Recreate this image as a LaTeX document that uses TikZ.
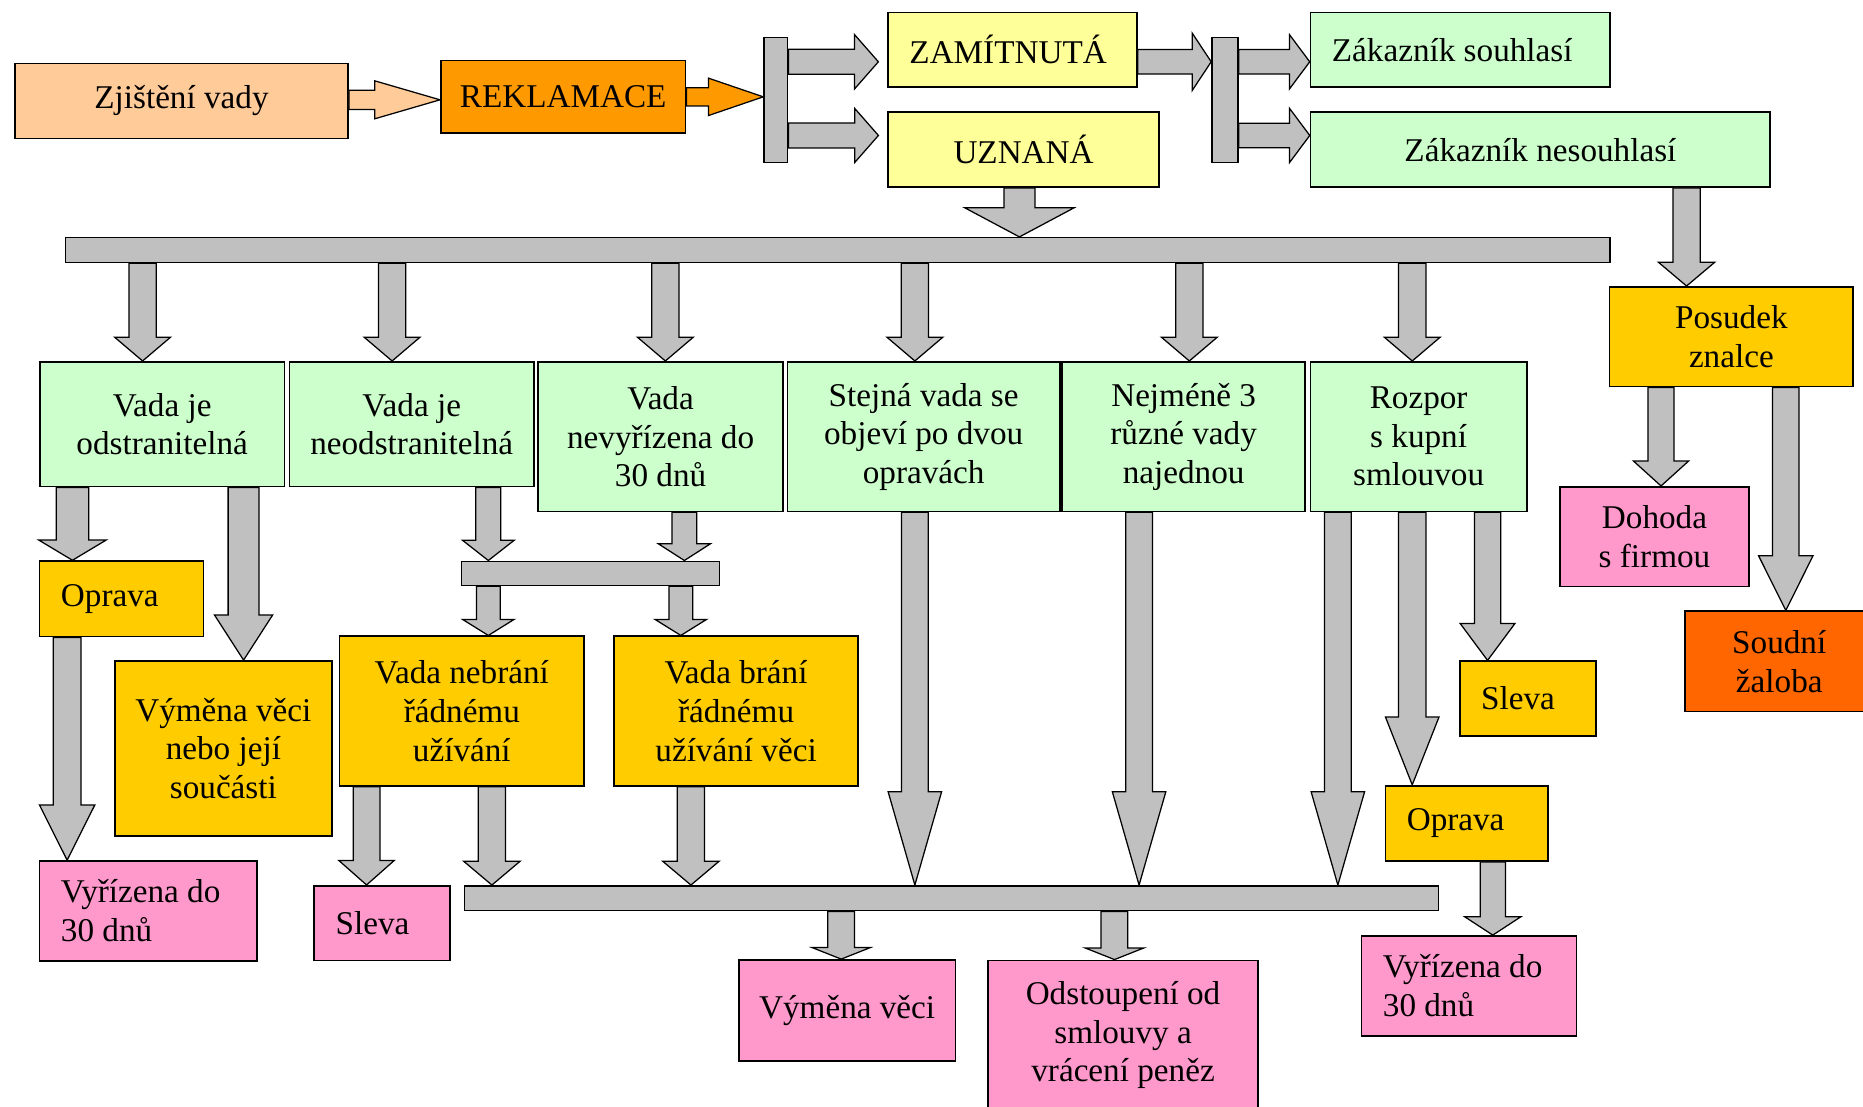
\documentclass[tikz,border=0pt]{standalone}
\usepackage{fontspec}
\setmainfont{Liberation Serif}
\usetikzlibrary{calc}

\definecolor{peach}{HTML}{FFCC99}
\definecolor{orng}{HTML}{FF9900}
\definecolor{yel}{HTML}{FFFF99}
\definecolor{grn}{HTML}{CCFFCC}
\definecolor{gold}{HTML}{FFCC00}
\definecolor{pnk}{HTML}{FF99CC}
\definecolor{dorng}{HTML}{FF6600}
\definecolor{gry}{HTML}{C0C0C0}

% one pixel of the drawing grid
\newcommand{\pu}{0.02cm}

\begin{document}
\begin{tikzpicture}[x=0.02cm, y=-0.02cm,
  font=\fontsize{15.9}{18.5}\selectfont,
  box/.style={draw, line width=0.8pt, inner sep=0pt, align=center},
  lbox/.style={box, align=flush left, inner xsep=0.36cm},
  bar/.style={draw, fill=gry, line width=0.7pt, inner sep=0pt},
  dn/.style n args={3}{draw, fill=gry, line width=0.6pt, to path={
    let \p1=(\tikztostart), \p2=(\tikztotarget) in
    (\x1-#1*\pu,\y1) -- (\x1-#1*\pu,\y2+#3*\pu) -- (\x1-#2*\pu,\y2+#3*\pu) -- (\x1,\y2)
    -- (\x1+#2*\pu,\y2+#3*\pu) -- (\x1+#1*\pu,\y2+#3*\pu) -- (\x1+#1*\pu,\y1) -- cycle}},
  rt/.style n args={3}{draw, fill=gry, line width=0.6pt, to path={
    let \p1=(\tikztostart), \p2=(\tikztotarget) in
    (\x1,\y1+#1*\pu) -- (\x2-#3*\pu,\y1+#1*\pu) -- (\x2-#3*\pu,\y1+#2*\pu) -- (\x2,\y1)
    -- (\x2-#3*\pu,\y1-#2*\pu) -- (\x2-#3*\pu,\y1-#1*\pu) -- (\x1,\y1-#1*\pu) -- cycle}}]

  \path[use as bounding box, clip] (0,0) rectangle (1568,931);

  % top row
  \node[box, fill=peach, minimum width=5.61cm, minimum height=1.26cm] (zjist) at (152.75,85) {Zjištění vady};
  \node[box, fill=orng, minimum width=4.12cm, minimum height=1.22cm] (rekl) at (474,81.5) {REKLAMACE};
  \node[bar, minimum width=0.40cm, minimum height=2.10cm] (bar1) at (653,84.2) {};
  \node[lbox, fill=yel, text width=3.47cm, minimum width=4.19cm, minimum height=1.26cm] (zam) at (852.2,42) {ZAMÍTNUTÁ};
  \node[box, fill=yel, minimum width=4.56cm, minimum height=1.26cm] (uzn) at (861.5,126) {UZNANÁ};
  \node[bar, minimum width=0.44cm, minimum height=2.10cm] (bar2) at (1031,84.2) {};
  \node[lbox, fill=grn, text width=4.32cm, minimum width=5.04cm, minimum height=1.26cm] (souhl) at (1229,42) {Zákazník souhlasí};
  \node[box, fill=grn, minimum width=7.74cm, minimum height=1.26cm] (nesouhl) at (1296.5,126) {Zákazník nesouhlasí};

  \node[bar, minimum width=26.0cm, minimum height=0.42cm] (mainbar) at (705,210.5) {};

  % second row
  \node[box, fill=grn, minimum width=4.12cm, minimum height=2.10cm] (odstr) at (136.5,357) {Vada je\\odstranitelná};
  \node[box, fill=grn, minimum width=4.12cm, minimum height=2.10cm] (neodstr) at (346.5,357) {Vada je\\neodstranitelná};
  \node[box, fill=grn, minimum width=4.12cm, minimum height=2.52cm] (nevyr) at (556,367.5) {Vada\\nevyřízena do\\30 dnů};
  \node[box, fill=grn, minimum width=4.58cm, minimum height=2.52cm] (stejna) at (777.4,367.5) {Stejná vada se\\objeví po dvou\\opravách};
  \node[box, fill=grn, minimum width=4.09cm, minimum height=2.52cm] (nejmene) at (996.2,367.5) {Nejméně 3\\různé vady\\najednou};
  \node[box, fill=grn, minimum width=3.64cm, minimum height=2.52cm] (rozpor) at (1194,367.5) {Rozpor\\s kupní\\smlouvou};
  \node[box, fill=gold, minimum width=4.10cm, minimum height=1.68cm] (posudek) at (1457.2,283.4) {Posudek\\znalce};
  \node[box, fill=pnk, minimum width=3.18cm, minimum height=1.68cm] (dohoda) at (1392.5,451.7) {Dohoda\\s firmou};
  \node[box, fill=dorng, minimum width=3.18cm, minimum height=1.69cm] (soudni) at (1497.5,556.7) {Soudní\\žaloba};

  % third row
  \node[lbox, fill=gold, text width=2.04cm, minimum width=2.76cm, minimum height=1.27cm] (oprava1) at (102.3,504) {Oprava};
  \node[bar, minimum width=4.34cm, minimum height=0.41cm] (smallbar) at (497,482.6) {};
  \node[box, fill=gold, minimum width=3.66cm, minimum height=2.95cm] (vymena1) at (188,630) {Výměna věci\\nebo její\\součásti};
  \node[box, fill=gold, minimum width=4.12cm, minimum height=2.52cm] (nebrani) at (388.7,598.5) {Vada nebrání\\řádnému\\užívání};
  \node[box, fill=gold, minimum width=4.11cm, minimum height=2.52cm] (brani) at (619.5,598.5) {Vada brání\\řádnému\\užívání věci};
  \node[lbox, fill=gold, text width=1.57cm, minimum width=2.29cm, minimum height=1.26cm] (sleva2) at (1285.8,588) {Sleva};
  \node[lbox, fill=gold, text width=2.02cm, minimum width=2.74cm, minimum height=1.27cm] (oprava2) at (1234.5,693) {Oprava};

  % bottom
  \node[lbox, fill=pnk, text width=2.94cm, minimum width=3.66cm, minimum height=1.68cm] (vyr1) at (124.8,766.6) {Vyřízena do\\30 dnů};
  \node[lbox, fill=pnk, text width=1.56cm, minimum width=2.28cm, minimum height=1.26cm] (sleva1) at (321.5,777) {Sleva};
  \node[bar, minimum width=16.4cm, minimum height=0.42cm] (lowbar) at (801,756) {};
  \node[lbox, fill=pnk, text width=2.90cm, minimum width=3.62cm, minimum height=1.68cm] (vyr2) at (1236.4,829.7) {Vyřízena do\\30 dnů};
  \node[box, fill=pnk, minimum width=3.65cm, minimum height=1.70cm] (vymena2) at (713,850.4) {Výměna věci};
  \node[box, fill=pnk, minimum width=4.55cm, minimum height=2.52cm] (odstoup) at (945.2,871.3) {Odstoupení od\\smlouvy a\\vrácení peněz};

  % arrows to the right
  \draw[rt={8.1}{16}{55}, fill=peach] (zjist.east |- 0,84) to (rekl.west);
  \draw[rt={7.7}{15.7}{46}, fill=orng] (rekl.east |- 0,81.5) to (bar1.west);
  \draw[rt={10.5}{22.8}{20}] (bar1.east |- 0,52) to ([xshift=-0.15cm]zam.west);
  \draw[rt={10.5}{22.8}{20}] (bar1.east |- 0,114) to ([xshift=-0.15cm]uzn.west);
  \draw[rt={10.3}{24.2}{16}] (zam.east |- 0,52) to (bar2.west);
  \draw[rt={10.3}{22.8}{17}] (bar2.east |- 0,52) to (souhl.west);
  \draw[rt={10.3}{22.8}{17}] (bar2.east |- 0,114) to (nesouhl.west);

  % arrows down
  \draw[dn={13}{46}{24.5}] (uzn.south -| 858,0) to (mainbar.north);
  \draw[dn={11.5}{23.5}{20}] (mainbar.south -| 120,0) to (odstr.north);
  \draw[dn={11.5}{23.5}{20}] (mainbar.south -| 330,0) to (neodstr.north);
  \draw[dn={11.5}{23.5}{20}] (mainbar.south -| 560,0) to (nevyr.north);
  \draw[dn={11.5}{23.5}{20}] (mainbar.south -| 770,0) to (stejna.north);
  \draw[dn={11.5}{23.5}{20}] (mainbar.south -| 1001,0) to (nejmene.north);
  \draw[dn={11.5}{23.5}{20}] (mainbar.south -| 1188.6,0) to (rozpor.north);
  \draw[dn={11.5}{23.7}{20}] (nesouhl.south -| 1419.5,0) to (posudek.north);

  \draw[dn={13.75}{28.3}{17}] (odstr.south -| 61,0) to (oprava1.north);
  \draw[dn={13}{24.5}{38}] (odstr.south -| 205,0) to (vymena1.north);
  \draw[dn={10.5}{21.7}{17}] (neodstr.south -| 411,0) to (smallbar.north);
  \draw[dn={10.5}{21.8}{14}] (nevyr.south -| 576,0) to (smallbar.north);
  \draw[dn={10}{21.7}{13.5}] (smallbar.south -| 411,0) to (nebrani.north);
  \draw[dn={10}{21.7}{13.5}] (smallbar.south -| 573,0) to (brani.north);
  \draw[dn={11.7}{23.3}{46.4}] (oprava1.south -| 56.5,0) to (vyr1.north);
  \draw[dn={11.25}{23.2}{20.5}] (nebrani.south -| 308.5,0) to (sleva1.north);
  \draw[dn={11.5}{23.7}{20}] (nebrani.south -| 414,0) to (lowbar.north);
  \draw[dn={11.5}{23.7}{20}] (brani.south -| 581.5,0) to (lowbar.north);
  \draw[dn={11.25}{22.5}{78.5}] (stejna.south -| 770,0) to (lowbar.north);
  \draw[dn={11.25}{22.5}{78.5}] (nejmene.south -| 958.7,0) to (lowbar.north);
  \draw[dn={11.25}{22.5}{78.5}] (rozpor.south -| 1126,0) to (lowbar.north);
  \draw[dn={11.5}{22.5}{57}] (rozpor.south -| 1188.6,0) to (oprava2.north);
  \draw[dn={11}{23}{31}] (rozpor.south -| 1252,0) to (sleva2.north);
  \draw[dn={10.6}{23.6}{15.4}] (oprava2.south -| 1256.4,0) to (vyr2.north);
  \draw[dn={11.25}{24.5}{9.7}] (lowbar.south -| 708,0) to (vymena2.north);
  \draw[dn={11.25}{24.5}{9.7}] (lowbar.south -| 938,0) to (odstoup.north);
  \draw[dn={11}{23.2}{21}] (posudek.south -| 1398,0) to (dohoda.north);
  \draw[dn={11.2}{22.9}{46}] (posudek.south -| 1503,0) to (soudni.north);

\end{tikzpicture}
\end{document}
